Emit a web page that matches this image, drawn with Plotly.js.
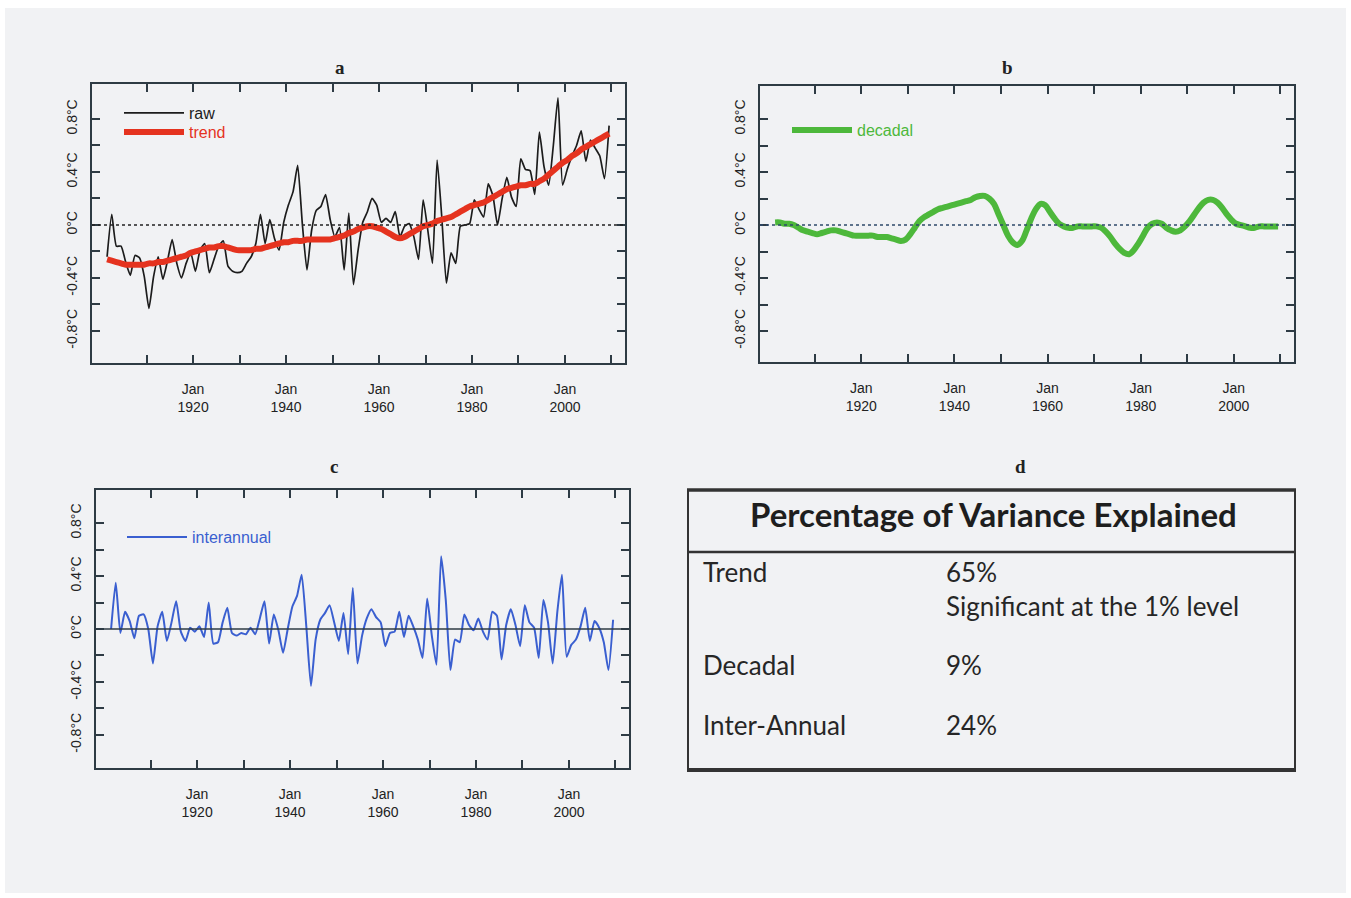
<!DOCTYPE html>
<html><head><meta charset="utf-8">
<script src="https://cdn.plot.ly/plotly-3.0.1.min.js"></script>
<style>html,body{margin:0;padding:0;background:#fff;} #chart{width:1351px;height:898px;}</style>
</head><body><div id="chart"></div>
<script>
const years = [1901,1902,1903,1904,1905,1906,1907,1908,1909,1910,
1911,1912,1913,1914,1915,1916,1917,1918,1919,1920,
1921,1922,1923,1924,1925,1926,1927,1928,1929,1930,
1931,1932,1933,1934,1935,1936,1937,1938,1939,1940,
1941,1942,1943,1944,1945,1946,1947,1948,1949,1950,
1951,1952,1953,1954,1955,1956,1957,1958,1959,1960,
1961,1962,1963,1964,1965,1966,1967,1968,1969,1970,
1971,1972,1973,1974,1975,1976,1977,1978,1979,1980,
1981,1982,1983,1984,1985,1986,1987,1988,1989,1990,
1991,1992,1993,1994,1995,1996,1997,1998,1999,2000,
2001,2002,2003,2004,2005,2006,2007,2008,2009];

const raw = [-0.24,0.08,-0.16,-0.16,-0.28,-0.38,-0.23,-0.25,-0.39,-0.63,
-0.39,-0.24,-0.41,-0.27,-0.11,-0.29,-0.40,-0.29,-0.21,-0.35,
-0.19,-0.14,-0.36,-0.26,-0.16,-0.12,-0.31,-0.35,-0.36,-0.35,
-0.29,-0.24,-0.14,0.08,-0.14,0.04,-0.10,-0.19,0.02,0.15,
0.25,0.45,0.01,-0.34,-0.04,0.11,0.14,0.23,0.04,-0.09,
-0.02,-0.34,0.09,-0.45,-0.19,0.02,0.10,0.20,0.15,0.02,
0.05,0.02,0.10,-0.09,-0.01,0.01,-0.09,-0.26,0.19,-0.04,
-0.29,0.49,0.06,-0.44,-0.21,-0.29,-0.01,0.00,0.01,0.19,
0.12,0.06,0.31,0.22,0.00,0.20,0.36,0.21,0.14,0.50,
0.42,0.41,0.23,0.70,0.44,0.30,0.60,0.96,0.30,0.42,
0.52,0.60,0.71,0.48,0.64,0.58,0.52,0.35,0.75];

const trend = [-0.26,-0.27,-0.28,-0.29,-0.30,-0.30,-0.30,-0.30,-0.30,-0.29,
-0.29,-0.28,-0.28,-0.27,-0.26,-0.25,-0.24,-0.23,-0.21,-0.20,
-0.19,-0.18,-0.17,-0.17,-0.16,-0.16,-0.17,-0.18,-0.19,-0.19,
-0.19,-0.19,-0.18,-0.18,-0.17,-0.16,-0.15,-0.14,-0.13,-0.13,
-0.12,-0.12,-0.12,-0.11,-0.11,-0.11,-0.11,-0.11,-0.11,-0.10,
-0.09,-0.08,-0.06,-0.05,-0.03,-0.02,-0.01,-0.01,-0.02,-0.03,
-0.05,-0.07,-0.09,-0.10,-0.09,-0.07,-0.05,-0.03,-0.01,0.00,
0.01,0.03,0.04,0.05,0.06,0.08,0.10,0.12,0.14,0.15,
0.16,0.17,0.19,0.21,0.23,0.25,0.27,0.28,0.29,0.30,
0.30,0.31,0.31,0.33,0.35,0.38,0.41,0.44,0.47,0.49,
0.52,0.54,0.57,0.59,0.61,0.63,0.65,0.67,0.69];

const decadal = [0.02,0.02,0.01,0.01,0.00,-0.02,-0.04,-0.05,-0.06,-0.07,
-0.06,-0.05,-0.04,-0.04,-0.05,-0.06,-0.07,-0.08,-0.08,-0.08,
-0.08,-0.08,-0.09,-0.09,-0.09,-0.10,-0.11,-0.12,-0.11,-0.07,
-0.02,0.03,0.06,0.08,0.10,0.12,0.13,0.14,0.15,0.16,
0.17,0.18,0.19,0.21,0.22,0.22,0.20,0.16,0.08,0.00,
-0.08,-0.13,-0.15,-0.12,-0.04,0.05,0.12,0.16,0.15,0.10,
0.05,0.01,-0.01,-0.02,-0.02,-0.01,-0.01,-0.01,-0.01,-0.01,
-0.02,-0.05,-0.09,-0.14,-0.18,-0.21,-0.22,-0.19,-0.14,-0.08,
-0.02,0.01,0.02,0.01,-0.02,-0.04,-0.05,-0.04,-0.01,0.03,
0.08,0.13,0.17,0.19,0.19,0.17,0.13,0.08,0.04,0.01,
0.00,-0.01,-0.02,-0.02,-0.01,-0.01,-0.01,-0.01,-0.01];

const interannual = [0.00,0.35,-0.03,0.13,0.06,-0.07,0.10,0.11,0.00,-0.26,
0.02,0.13,-0.09,0.05,0.21,-0.02,-0.09,0.01,-0.02,0.02,
-0.06,0.20,-0.11,-0.10,0.05,0.16,-0.03,-0.05,-0.03,-0.04,
0.01,-0.04,0.08,0.21,-0.11,0.11,-0.01,-0.18,0.00,0.17,
0.25,0.41,0.02,-0.43,-0.08,0.07,0.12,0.18,0.05,-0.09,
0.12,-0.19,0.31,-0.26,-0.05,0.08,0.15,0.09,0.05,-0.13,
-0.03,-0.02,0.13,-0.06,0.10,0.02,-0.08,-0.22,0.23,-0.05,
-0.27,0.55,0.22,-0.31,-0.08,-0.10,0.11,0.03,-0.01,0.08,
-0.02,-0.08,0.13,0.10,-0.23,0.03,0.15,0.03,-0.13,0.18,
0.05,0.01,-0.22,0.22,0.05,-0.26,0.13,0.41,-0.21,-0.12,
-0.08,0.02,0.16,-0.09,0.06,0.01,-0.10,-0.31,0.07];

const yTickVals = [-0.8,-0.6,-0.4,-0.2,0,0.2,0.4,0.6,0.8];
const yTickText = ['-0.8°C','','-0.4°C','','0°C','','0.4°C','','0.8°C'];
const xTickYears = [1910,1920,1930,1940,1950,1960,1970,1980,1990,2000,2010];
const xTickText = ['','Jan<br>1920','','Jan<br>1940','','Jan<br>1960','','Jan<br>1980','','Jan<br>2000',''];
const seriesNames = ['raw','trend','decadal','interannual'];
const panelLabels = ['a','b','c','d'];
const tableTitle = 'Percentage of Variance Explained';
const components = ['Trend','Decadal','Inter-Annual'];
const variancePct = ['65%','9%','24%'];
const trendNote = 'Significant at the 1% level';

const W = 1351, H = 898;
const px = v => v / W;
const py = v => 1 - v / H;
const dates = years.map(y => y + '-07-01');
const AX = '#2e3b44';
const tickFont = {family:'Liberation Sans, Arial, sans-serif', size:14, color:'#222'};

function xaxisCfg(x0, x1, anchor){
  return {domain:[px(x0), px(x1)], anchor, type:'date', range:['1898-04-01','2012-12-01'],
    tickmode:'array', tickvals:xTickYears.map(y => y + '-01-01'), ticktext:xTickText,
    ticks:'inside', ticklen:8, tickwidth:2, tickcolor:AX, showline:true, linecolor:AX, linewidth:2,
    mirror:'ticks', showgrid:false, zeroline:false, tickfont:tickFont, ticklabelstandoff:12, fixedrange:true};
}
function yaxisCfg(y0, y1, anchor, range){
  return {domain:[py(y1), py(y0)], anchor, range,
    tickmode:'array', tickvals:yTickVals, ticktext:yTickText, tickangle:-90,
    ticks:'inside', ticklen:8, tickwidth:2, tickcolor:AX, showline:true, linecolor:AX, linewidth:2,
    mirror:'ticks', showgrid:false, zeroline:false, tickfont:tickFont, ticklabelstandoff:7, fixedrange:true};
}

const traces = [
  {x:dates, y:raw, xaxis:'x', yaxis:'y', mode:'lines', name:seriesNames[0], legend:'legend',
   line:{color:'#1c1c1c', width:1.7, shape:'spline', smoothing:0.5}},
  {x:dates, y:trend, xaxis:'x', yaxis:'y', mode:'lines', name:'<span style="color:#e5331f">' + seriesNames[1] + '</span>', legend:'legend4',
   line:{color:'#e5331f', width:6, shape:'spline'}},
  {x:dates, y:decadal, xaxis:'x2', yaxis:'y2', mode:'lines', name:'<span style="color:#4db83b">' + seriesNames[2] + '</span>', legend:'legend2',
   line:{color:'#4db83b', width:6, shape:'spline'}},
  {x:dates, y:interannual, xaxis:'x3', yaxis:'y3', mode:'lines', name:'<span style="color:#3a5fd0">' + seriesNames[3] + '</span>', legend:'legend3',
   line:{color:'#3a5fd0', width:2, shape:'spline', smoothing:0.5}}
];

const legFont = {family:'Liberation Sans, Arial, sans-serif', size:16, color:'#1c1c1c'};
const legBase = {bgcolor:'rgba(0,0,0,0)', borderwidth:0, font:legFont, xanchor:'left', yanchor:'top', tracegroupgap:0, itemwidth:60};

const shapes = [
  {type:'rect', xref:'paper', yref:'paper', x0:px(5), x1:px(1346), y0:py(893), y1:py(8), fillcolor:'#f1f2f4', line:{width:0}, layer:'below'},
  {type:'line', xref:'x domain', yref:'y', x0:0, x1:1, y0:0, y1:0, line:{color:'#222', width:1.5, dash:'dot'}},
  {type:'line', xref:'x2 domain', yref:'y2', x0:0, x1:1, y0:0, y1:0, line:{color:'#2e4a6a', width:1.5, dash:'dot'}},
  {type:'line', xref:'x3 domain', yref:'y3', x0:0, x1:1, y0:0, y1:0, line:{color:'#2e3b44', width:1.5}},
  // table d
  {type:'rect', xref:'paper', yref:'paper', x0:px(688), x1:px(1295), y0:py(770), y1:py(490), line:{color:'#333', width:2}},
  {type:'line', xref:'paper', yref:'paper', x0:px(687), x1:px(1296), y0:py(490), y1:py(490), line:{color:'#333', width:3.5}},
  {type:'line', xref:'paper', yref:'paper', x0:px(687), x1:px(1296), y0:py(770), y1:py(770), line:{color:'#333', width:4}},
  {type:'line', xref:'paper', yref:'paper', x0:px(688), x1:px(1295), y0:py(552), y1:py(552), line:{color:'#333', width:2.5}}
];

const titleFont = {family:'Liberation Serif, Times New Roman, serif', size:19, color:'#222'};
const tblFont = {family:'Lato, Open Sans, sans-serif', size:26, color:'#262626'};
const annotations = [
  {text:'<b>' + panelLabels[0] + '</b>', x:px(340), y:py(68), font:titleFont},
  {text:'<b>' + panelLabels[1] + '</b>', x:px(1007), y:py(68), font:titleFont},
  {text:'<b>' + panelLabels[2] + '</b>', x:px(334), y:py(466), font:titleFont},
  {text:'<b>' + panelLabels[3] + '</b>', x:px(1020), y:py(466), font:titleFont},
  {text:'<b>' + tableTitle + '</b>', x:px(993), y:py(514), font:{family:'Lato, Open Sans, sans-serif', size:33, color:'#1e1e1e'}},
  {text:components[0], x:px(701), y:py(572), xanchor:'left', font:tblFont},
  {text:variancePct[0], x:px(944), y:py(572), xanchor:'left', font:tblFont},
  {text:trendNote, x:px(944), y:py(606), xanchor:'left', font:tblFont},
  {text:components[1], x:px(701), y:py(665), xanchor:'left', font:tblFont},
  {text:variancePct[1], x:px(944), y:py(665), xanchor:'left', font:tblFont},
  {text:components[2], x:px(701), y:py(725), xanchor:'left', font:tblFont},
  {text:variancePct[2], x:px(944), y:py(725), xanchor:'left', font:tblFont}
].map(a => Object.assign({xref:'paper', yref:'paper', showarrow:false, yanchor:'middle', xanchor:a.xanchor || 'center'}, a));

const layout = {
  width:W, height:H, margin:{l:0, r:0, t:0, b:0},
  paper_bgcolor:'#ffffff', plot_bgcolor:'rgba(0,0,0,0)',
  showlegend:true,
  xaxis: xaxisCfg(92, 625, 'y'),
  yaxis: yaxisCfg(84, 363, 'x', [-1.042, 1.064]),
  xaxis2: xaxisCfg(760, 1294, 'y2'),
  yaxis2: yaxisCfg(86, 362, 'x2', [-1.034, 1.05]),
  xaxis3: xaxisCfg(96, 629, 'y3'),
  yaxis3: yaxisCfg(490, 768, 'x3', [-1.05, 1.05]),
  legend: Object.assign({}, legBase, {x:px(119), y:py(96)}),
  legend4: Object.assign({}, legBase, {x:px(119), y:py(115)}),
  legend2: Object.assign({}, legBase, {x:px(787), y:py(113)}),
  legend3: Object.assign({}, legBase, {x:px(122), y:py(520)}),
  shapes, annotations
};

Plotly.newPlot('chart', traces, layout, {staticPlot:true, displayModeBar:false});
</script></body></html>
